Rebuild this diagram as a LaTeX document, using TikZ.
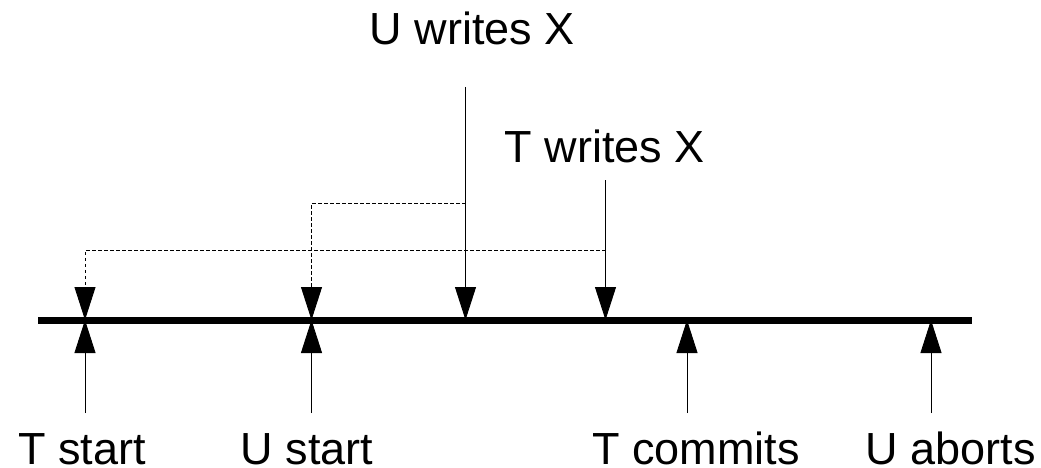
\documentclass[tikz,border=0pt]{standalone}
\usepackage{fontspec}
\setmainfont{Liberation Sans}
\usetikzlibrary{arrows.meta}
\begin{document}
\begin{tikzpicture}[x=1pt,y=-1pt,
  lbl/.style={inner sep=0pt,anchor=base,font=\fontsize{45}{54}\selectfont},
  arr/.style={line width=0.9pt,-{Triangle[length=33pt,width=21pt]}},
  dasharr/.style={line width=0.9pt,dash pattern=on 3.3pt off 2.7pt,-{Triangle[length=33pt,width=21pt]}},
  timeline/.style={line width=7pt}]
\useasboundingbox (0,0) rectangle (1041,468);
% timeline
\coordinate (tlL) at (38,320);
\coordinate (tlR) at (972,320);
\draw[timeline] (tlL) -- (tlR);
% event points on the timeline
\coordinate (pTs) at (85,320);
\coordinate (pUs) at (311.5,320);
\coordinate (pUw) at (465.5,320);
\coordinate (pTw) at (605.5,320);
\coordinate (pTc) at (687,320);
\coordinate (pUa) at (931,320);
% tails
\coordinate (tTs) at (85,413);
\coordinate (tUs) at (311.5,413);
\coordinate (tTc) at (687,413);
\coordinate (tUa) at (931,413);
\coordinate (tUw) at (465.5,87);
\coordinate (tTw) at (605.5,180);
\coordinate (mUw) at (465.5,203.3);
\coordinate (mTw) at (605.5,250.3);
% labels
\node[lbl] (lUw) at (472.5,45) {U writes X};
\node[lbl] (lTw) at (605,162) {T writes X};
\node[lbl] (lTs) at (82,464) {T start};
\node[lbl] (lUs) at (307,464) {U start};
\node[lbl] (lTc) at (696,464) {T commits};
\node[lbl] (lUa) at (951,464) {U aborts};
% arrows
\draw[arr] (tUw) -- (pUw);
\draw[arr] (tTw) -- (pTw);
\draw[arr] (tTs) -- (pTs);
\draw[arr] (tUs) -- (pUs);
\draw[arr] (tTc) -- (pTc);
\draw[arr] (tUa) -- (pUa);
\draw[dasharr] (mUw) -| (pUs);
\draw[dasharr] (mTw) -| (pTs);
\end{tikzpicture}
\end{document}
